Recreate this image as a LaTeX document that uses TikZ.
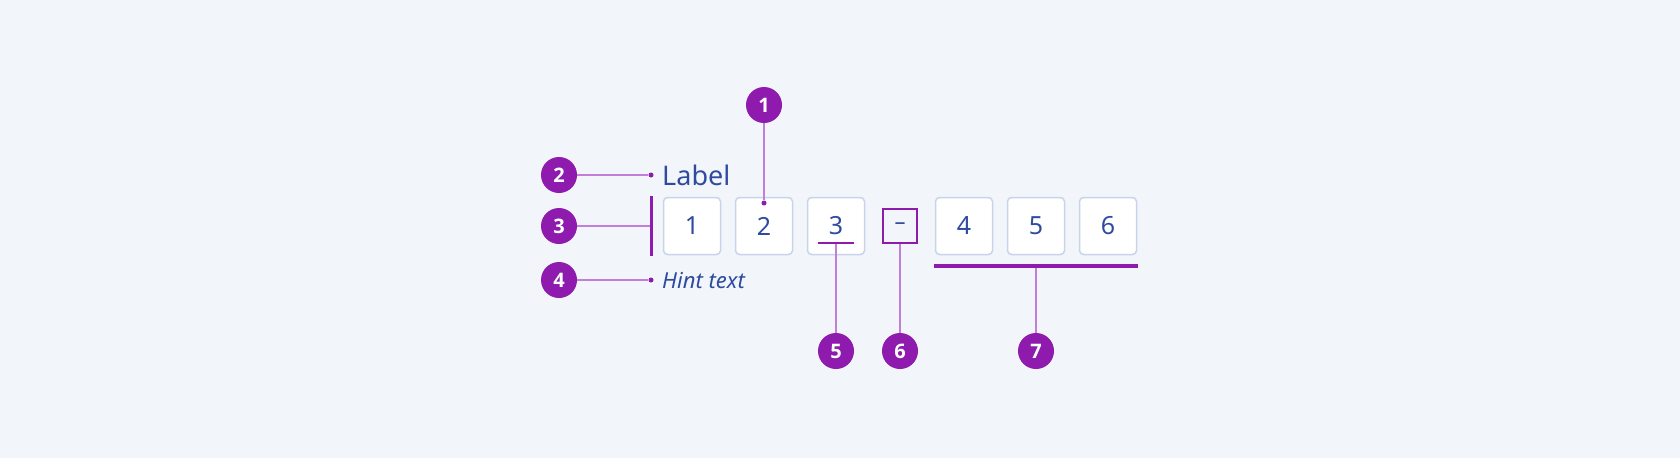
\documentclass[tikz,border=0pt]{standalone}
\usepackage{fontspec}
\setmainfont{Noto Sans}
\newfontfamily\badgefont{Open Sans}
\definecolor{bg}{HTML}{F2F5FA}
\definecolor{pur}{HTML}{8E1AAE}
\definecolor{lpur}{HTML}{C27EDB}
\definecolor{txt}{HTML}{2F4BA0}
\definecolor{bord}{HTML}{C9D3EA}
\begin{document}
\begin{tikzpicture}[x=1pt,y=-1pt,
  badge/.style={circle,fill=pur,minimum size=36pt,inner sep=0pt,text=white,font=\badgefont\bfseries\fontsize{20}{20}\selectfont},
  digbox/.style={draw=bord,line width=1.5pt,fill=white,rounded corners=4pt,minimum size=57pt,inner sep=0pt,text=txt,font=\fontsize{25}{25}\selectfont},
  conn/.style={draw=lpur,line width=1.2pt},
  dotc/.style={circle,fill=pur,inner sep=0pt,minimum size=5pt}]
\fill[bg] (0,0) rectangle (1680,458);
\useasboundingbox (0,0) rectangle (1680,458);
\foreach \n/\x in {1/692,2/764,3/836,4/964,5/1036,6/1108}
  \node[digbox] (b\n) at (\x,226) {\n};
\node[draw=pur,line width=1.2pt,minimum size=34pt,inner sep=0pt,text=txt,font=\fontsize{22}{22}\selectfont] (mb) at (900,226) {\textendash};
\node[anchor=west,text=txt,font=\fontsize{27}{27}\selectfont,inner sep=0pt] (lab) at (662,175) {Label};
\node[anchor=west,text=txt,font=\itshape\fontsize{22}{22}\selectfont,inner sep=0pt] (hint) at (662,281) {Hint text};
\node[badge] (c1) at (764,105) {1};
\node[badge] (c2) at (559,175) {2};
\node[badge] (c3) at (559,226) {3};
\node[badge] (c4) at (559,280) {4};
\node[badge] (c5) at (836,351) {5};
\node[badge] (c6) at (900,351) {6};
\node[badge] (c7) at (1036,351) {7};
\node[dotc] (d1) at (764,203) {};
\node[dotc] (d2) at (651,175) {};
\node[dotc] (d4) at (651,280) {};
\coordinate (u3a) at (818,243); \coordinate (u3b) at (854,243);
\coordinate (u3) at (836,243);
\coordinate (barT) at (651,196); \coordinate (barB) at (651,256);
\coordinate (bar) at (651,226);
\coordinate (l7a) at (934,266); \coordinate (l7b) at (1138,266);
\coordinate (l7) at (1036,266);
\draw[conn] (c1) -- (d1);
\draw[conn] (c2) -- (d2);
\draw[conn] (c4) -- (d4);
\draw[conn] (c3) -- (bar);
\draw[conn] (c5) -- (u3);
\draw[conn] (c6) -- (mb);
\draw[conn] (c7) -- (l7);
\draw[pur,line width=3pt] (barT) -- (barB);
\draw[pur,line width=1.8pt] (u3a) -- (u3b);
\draw[pur,line width=4pt] (l7a) -- (l7b);
\end{tikzpicture}
\end{document}
